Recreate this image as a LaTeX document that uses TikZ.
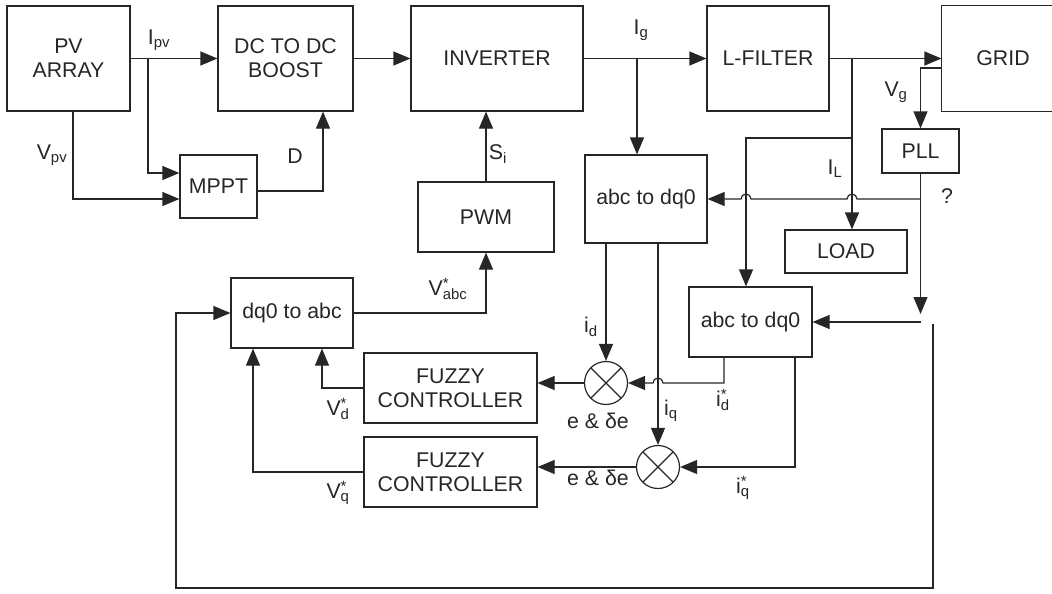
\documentclass[tikz,border=0pt]{standalone}
\usepackage{fontspec}
\setmainfont{Liberation Sans}
\usetikzlibrary{arrows.meta,calc}

\newcommand{\supsub}[3]{#1\rlap{\textsuperscript{#2}}\textsubscript{#3}}

\begin{document}
\begin{tikzpicture}[x=1pt,y=-1pt,line width=1.2pt,black!85,
  >={Triangle[length=17pt,width=14pt]},
  font=\fontsize{21.3}{24}\selectfont,
  box/.style 2 args={draw,minimum width=#1pt,minimum height=#2pt,align=center,inner sep=0pt},
  mix/.style={draw,circle,minimum size=43pt,inner sep=0pt,
    path picture={\draw (path picture bounding box.north west) -- (path picture bounding box.south east)
      (path picture bounding box.north east) -- (path picture bounding box.south west);}},
  lbl/.style={inner sep=0pt}]
  \useasboundingbox (0,0) rectangle (1052,594);
  % blocks
  \node[box={123}{105}] (pv) at (68.5,58.5) {PV\\ARRAY};
  \node[box={135}{105}] (boost) at (285.5,58.5) {DC TO DC\\BOOST};
  \node[box={172}{105}] (inv) at (497,58.5) {INVERTER};
  \node[box={122}{105}] (filt) at (768,58.5) {L-FILTER};
  \node[minimum width=122pt,minimum height=105pt,inner sep=0pt] (grid) at (1003,58.5) {GRID};
  \draw (grid.north east) -- (grid.north west) -- (grid.south west) -- (grid.south east);
  \node[box={77}{63}] (mppt) at (218.5,186.5) {MPPT};
  \node[box={136}{70}] (pwm) at (486,217) {PWM};
  \node[box={122}{88}] (abcA) at (646,199) {abc to dq0};
  \node[box={77}{44}] (pll) at (920.5,151) {PLL};
  \node[box={122}{43}] (load) at (846,251.5) {LOAD};
  \node[box={123}{70}] (abcB) at (750.5,322) {abc to dq0};
  \node[box={122}{70}] (dq) at (292,313) {dq0 to abc};
  \node[box={173}{70}] (fzA) at (450.5,388) {FUZZY\\CONTROLLER};
  \node[box={173}{70}] (fzB) at (450.5,472) {FUZZY\\CONTROLLER};
  \node[mix] (mxA) at (606,383) {};
  \node[mix] (mxB) at (658,467) {};
  % branch points
  \coordinate (ipv) at (148,58.5);
  \coordinate (ig) at (637,58.5);
  \coordinate (il) at (852,58.5);
  \coordinate (ilb) at (852,138);
  \coordinate (th) at (pll |- abcB);
  \coordinate (fb) at (933,324);
  % power path
  \draw[->] (pv) -- (boost);
  \draw[->] (ipv) |- ([yshift=13.5pt]mppt.west);
  \draw[->] ([xshift=4.5pt]pv.south) |- ([yshift=-12.5pt]mppt.west);
  \draw[->] ([yshift=-4.5pt]mppt.east) -| ([xshift=37.5pt]boost.south);
  \draw[->] (boost) -- (inv);
  \draw[->] (inv) -- (filt);
  \draw[->] (ig) -- (ig |- abcA.north);
  \draw[->] (filt) -- (grid);
  \draw[->] (il) -- (il |- load.north);
  \draw[->] (ilb) -| ([xshift=-4.5pt]abcB.north);
  \draw[->] ([yshift=-9.5pt]grid.west) -| (pll.north);
  \draw[->] (pll) -- ([yshift=8pt]th);
  \draw[->] (th) -- (abcB);
  \draw[->] (pll |- abcA) -- (857,199) arc[start angle=0,end angle=180,radius=5pt]
    -- (751,199) arc[start angle=0,end angle=180,radius=5pt] -- (abcA);
  % control loop
  \draw[->] (mxA |- abcA.south) -- (mxA);
  \draw[->] (mxB |- abcA.south) -- (mxB);
  \draw[->] ([xshift=-26.5pt]abcB.south) |- (663,383) arc[start angle=0,end angle=180,radius=5pt] -- (mxA);
  \draw[->] ([xshift=44.5pt]abcB.south) |- (mxB);
  \draw[->] (mxA) -- (mxA -| fzA.east);
  \draw[->] (mxB) -- (mxB -| fzB.east);
  \draw[->] (fzA) -| ([xshift=30pt]dq.south);
  \draw[->] (fzB) -| ([xshift=-39pt]dq.south);
  \draw[->] (dq) -| (pwm);
  \draw[->] (pwm.north) -- (pwm.north |- inv.south);
  \draw[->] (fb) |- (176,588) |- (dq);
  % labels
  \node[lbl] at (159,40) {I\textsubscript{pv}};
  \node[lbl] at (52,155) {V\textsubscript{pv}};
  \node[lbl] at (295,156) {D};
  \node[lbl] at (498,154) {S\textsubscript{i}};
  \node[lbl] at (641,30) {I\textsubscript{g}};
  \node[lbl] at (896,92) {V\textsubscript{g}};
  \node[lbl] at (835,169) {I\textsubscript{L}};
  \node[lbl] at (947,196) {?};
  \node[lbl] at (448,289) {\supsub{V}{*}{abc}};
  \node[lbl] at (338,409) {\supsub{V}{*}{d}};
  \node[lbl] at (338,493) {\supsub{V}{*}{q}};
  \node[lbl] at (591,327) {i\textsubscript{d}};
  \node[lbl] at (723,400) {\supsub{i}{*}{d}};
  \node[lbl] at (671,411) {i\textsubscript{q}};
  \node[lbl] at (743,488) {\supsub{i}{*}{q}};
  \node[lbl] at (598,421) {e \& δe};
  \node[lbl] at (598,478) {e \& δe};
\end{tikzpicture}
\end{document}
